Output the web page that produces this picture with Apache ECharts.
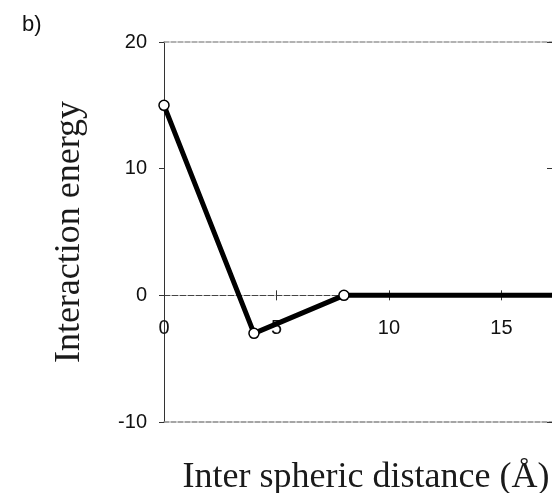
<!DOCTYPE html>
<html>
<head>
<meta charset="utf-8">
<script src="https://cdn.jsdelivr.net/npm/echarts@6/dist/echarts.min.js"></script>
<style>
html,body{margin:0;padding:0;background:#fff;}
#chart{width:552px;height:493px;}
</style>
</head>
<body>
<div id="chart"></div>
<script>
// Data
var distance = [0, 4, 8, 20];
var energy = [15, -3, 0, 0];
var markerShown = [true, true, true, false];
var yTicks = [-10, 0, 10, 20];
var xTicks = [0, 5, 10, 15];
var panelLabel = 'b)';
var xTitle = 'Inter spheric distance (Å)';
var yTitle = 'Interaction energy';

var Y_MIN = -10, Y_MAX = 20, X_MAX = 17.25;
var GRID = {left: 164, top: 42, right: 0, bottom: 71};
var gridH = 493 - GRID.top - GRID.bottom;
// place the x axis on the y = 0 line (offset from the grid bottom)
var zeroOffset = -gridH * (0 - Y_MIN) / (Y_MAX - Y_MIN);

var chart = echarts.init(document.getElementById('chart'), null, {renderer: 'canvas'});

var seriesData = distance.map(function (d, i) {
  var item = {value: [d, energy[i]]};
  if (!markerShown[i]) item.symbol = 'none';
  return item;
});

var labelFont = {fontFamily: 'Liberation Sans', fontSize: 20, color: '#111'};
var titleFont = {fontFamily: 'Liberation Serif', fontSize: 36, color: '#1a1a1a'};

chart.setOption({
  animation: false,
  backgroundColor: '#fff',
  grid: {left: GRID.left, top: GRID.top, right: GRID.right, bottom: GRID.bottom,
         containLabel: false, outerBoundsMode: 'none'},
  graphic: [{
    type: 'text', left: 22, top: 14,
    style: {text: panelLabel, font: '22px "Liberation Sans"', fill: '#111'}
  }],
  xAxis: [{
    type: 'value', min: 0, max: X_MAX, interval: 5, position: 'bottom', offset: zeroOffset,
    axisLine: {show: true, onZero: false, lineStyle: {color: '#444', width: 1, type: [6, 2]}},
    axisTick: {show: true, length: 5, lineStyle: {color: '#333'}},
    axisLabel: Object.assign({margin: 23, showMaxLabel: false,
      formatter: function (v) { return xTicks.indexOf(v) >= 0 ? String(v) : ''; }}, labelFont),
    splitLine: {show: false}
  }, {
    type: 'value', min: 0, max: X_MAX, interval: 5, position: 'bottom', offset: zeroOffset,
    axisLine: {show: false, onZero: false},
    axisTick: {show: true, inside: true, length: 5, lineStyle: {color: '#333'}},
    axisLabel: {show: false}, splitLine: {show: false}
  }, {
    type: 'value', min: 0, max: X_MAX, interval: 5, position: 'top',
    axisLine: {show: true, onZero: false, lineStyle: {color: '#999', width: 1.5, type: [5, 2]}},
    axisTick: {show: false}, axisLabel: {show: false}, splitLine: {show: false}
  }, {
    type: 'value', min: 0, max: X_MAX, interval: 5, position: 'bottom',
    axisLine: {show: true, onZero: false, lineStyle: {color: '#888', width: 1.5, type: [5, 2]}},
    axisTick: {show: false}, axisLabel: {show: false}, splitLine: {show: false},
    name: xTitle, nameLocation: 'middle', nameGap: 38,
    nameTextStyle: Object.assign({padding: [0, 0, 0, 16]}, titleFont)
  }],
  yAxis: [{
    type: 'value', min: Y_MIN, max: Y_MAX, interval: 10,
    axisLine: {show: true, onZero: false, lineStyle: {color: '#333', width: 1}},
    axisTick: {show: true, length: 5, lineStyle: {color: '#333'}},
    axisLabel: Object.assign({margin: 17,
      formatter: function (v) { return yTicks.indexOf(v) >= 0 ? String(v) : ''; }}, labelFont),
    splitLine: {show: false},
    name: yTitle, nameLocation: 'middle', nameGap: 76,
    nameTextStyle: titleFont
  }, {
    type: 'value', min: Y_MIN, max: Y_MAX, interval: 10,
    axisLine: {show: false, onZero: false},
    axisTick: {show: true, inside: true, length: 5, lineStyle: {color: '#333'}},
    axisLabel: {show: false}, splitLine: {show: false}
  }],
  series: [{
    type: 'line',
    xAxisIndex: 0, yAxisIndex: 0,
    data: seriesData,
    clip: true,
    lineStyle: {color: '#000', width: 5},
    symbol: 'circle', symbolSize: 10,
    itemStyle: {color: '#fff', borderColor: '#000', borderWidth: 1.5},
    z: 3
  }]
});
</script>
</body>
</html>
